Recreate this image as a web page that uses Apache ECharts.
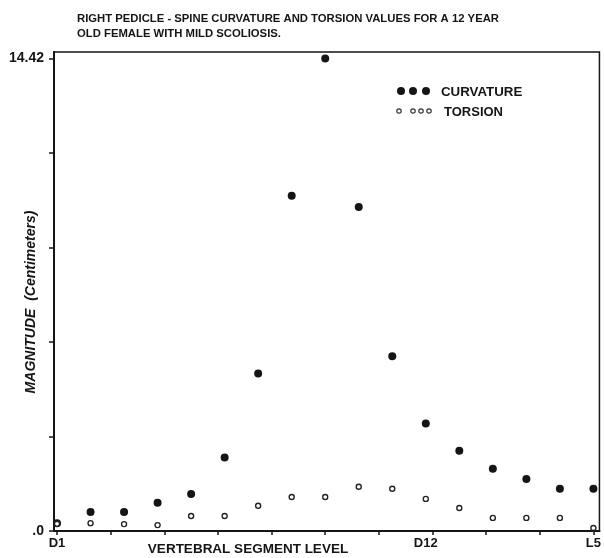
<!DOCTYPE html>
<html><head><meta charset="utf-8">
<script src="https://cdn.jsdelivr.net/npm/echarts@6/dist/echarts.min.js"></script>
<style>html,body{margin:0;padding:0;background:#fff}#c{width:604px;height:558px}</style>
</head><body><div id="c"></div>
<script>
// ---- data ----
const categories = ['D1','D2','D3','D4','D5','D6','D7','D8','D9','D10','D11','D12','L1','L2','L3','L4','L5'];
const curvature = [0.24, 0.58, 0.58, 0.86, 1.13, 2.24, 4.81, 10.23, 14.42, 9.89, 5.33, 3.28, 2.45, 1.90, 1.59, 1.29, 1.29];
const torsion   = [0.22, 0.24, 0.21, 0.18, 0.46, 0.46, 0.77, 1.04, 1.04, 1.35, 1.29, 0.98, 0.70, 0.40, 0.40, 0.40, 0.09];
const xTickLabels = ['D1', 'D12', 'L5'];
const xTickPositions = [0, 1.6, 3.2, 4.8, 6.4, 8, 9.6, 11.2, 12.8, 14.4, 16];
const yTickValues = [0, 2.884, 5.768, 8.652, 11.536, 14.42];
const yLabelValues = [0, 14.42];
const yLabelTexts = ['.0', '14.42'];
const titleLines = ['RIGHT PEDICLE - SPINE CURVATURE AND TORSION VALUES FOR A 12 YEAR', 'OLD FEMALE WITH MILD SCOLIOSIS.'];
const seriesNames = ['CURVATURE', 'TORSION'];

// ---- chart ----
const ink = '#151515';
const font = 'Liberation Sans, Arial, sans-serif';
const chart = echarts.init(document.getElementById('c'), null, {renderer: 'canvas'});
const xLabelIdx = xTickLabels.map(l => categories.indexOf(l));

chart.setOption({
  backgroundColor: '#ffffff',
  animation: false,
  title: {
    text: titleLines.join('\n'),
    left: 72, top: 6,
    textStyle: {fontFamily: font, fontWeight: 'bold', fontSize: 11.3, lineHeight: 15, color: ink}
  },
  grid: {left: 54, right: 2, top: 52, bottom: 27, show: true, borderColor: ink, borderWidth: 1.5, backgroundColor: 'transparent'},
  xAxis: {
    type: 'value', min: -0.09, max: 16.18,
    splitLine: {show: false},
    axisLine: {show: true, onZero: false, lineStyle: {color: ink, width: 2}},
    axisTick: {show: true, inside: false, length: 4, customValues: xTickPositions, lineStyle: {color: ink, width: 1.5}},
    axisLabel: {
      customValues: xLabelIdx, margin: 6,
      formatter: v => categories[Math.round(v)],
      fontFamily: font, fontWeight: 'bold', fontSize: 13, color: ink
    }
  },
  yAxis: {
    type: 'value', min: 0, max: 14.62,
    splitLine: {show: false},
    axisLine: {show: true, onZero: false, lineStyle: {color: ink, width: 2}},
    axisTick: {show: true, length: 5, customValues: yTickValues, lineStyle: {color: ink, width: 1.5}},
    axisLabel: {
      customValues: yLabelValues, margin: 10,
      formatter: v => yLabelTexts[yLabelValues.indexOf(v)],
      fontFamily: font, fontWeight: 'bold', fontSize: 14, color: ink
    }
  },
  series: [
    {
      name: seriesNames[0], type: 'scatter', symbol: 'circle', symbolSize: 8,
      itemStyle: {color: ink, opacity: 1},
      data: categories.map((c, i) => [i, curvature[i]]), z: 3
    },
    {
      name: seriesNames[1], type: 'scatter', symbol: 'circle', symbolSize: 5,
      itemStyle: {color: '#ffffff', borderColor: '#222', borderWidth: 1.4, opacity: 1},
      data: categories.map((c, i) => [i, torsion[i]]), z: 4
    }
  ],
  graphic: [
    // legend
    {type: 'circle', shape: {cx: 401, cy: 91, r: 4}, style: {fill: ink}},
    {type: 'circle', shape: {cx: 413, cy: 91, r: 4}, style: {fill: ink}},
    {type: 'circle', shape: {cx: 426, cy: 91, r: 4}, style: {fill: ink}},
    {type: 'text', x: 441, y: 92, style: {text: seriesNames[0], fontFamily: font, fontWeight: 'bold', fontSize: 13.3, fill: ink, verticalAlign: 'middle'}},
    {type: 'circle', shape: {cx: 399, cy: 111, r: 2.2}, style: {fill: '#fff', stroke: '#333', lineWidth: 1.2}},
    {type: 'circle', shape: {cx: 413, cy: 111, r: 2.2}, style: {fill: '#fff', stroke: '#333', lineWidth: 1.2}},
    {type: 'circle', shape: {cx: 421, cy: 111, r: 2.2}, style: {fill: '#fff', stroke: '#333', lineWidth: 1.2}},
    {type: 'circle', shape: {cx: 429, cy: 111, r: 2.2}, style: {fill: '#fff', stroke: '#333', lineWidth: 1.2}},
    {type: 'text', x: 444, y: 112, style: {text: seriesNames[1], fontFamily: font, fontWeight: 'bold', fontSize: 13, fill: ink, verticalAlign: 'middle'}},
    // axis names
    {type: 'text', x: 248, y: 549, style: {text: 'VERTEBRAL SEGMENT LEVEL', fontFamily: font, fontWeight: 'bold', fontSize: 13.5, fill: ink, align: 'center', verticalAlign: 'middle'}},
    {type: 'text', x: 31, y: 302, rotation: Math.PI / 2, style: {text: 'MAGNITUDE  (Centimeters)', fontFamily: font, fontWeight: 'bold', fontStyle: 'italic', fontSize: 14, fill: ink, align: 'center', verticalAlign: 'middle'}}
  ]
});
</script>
</body></html>
